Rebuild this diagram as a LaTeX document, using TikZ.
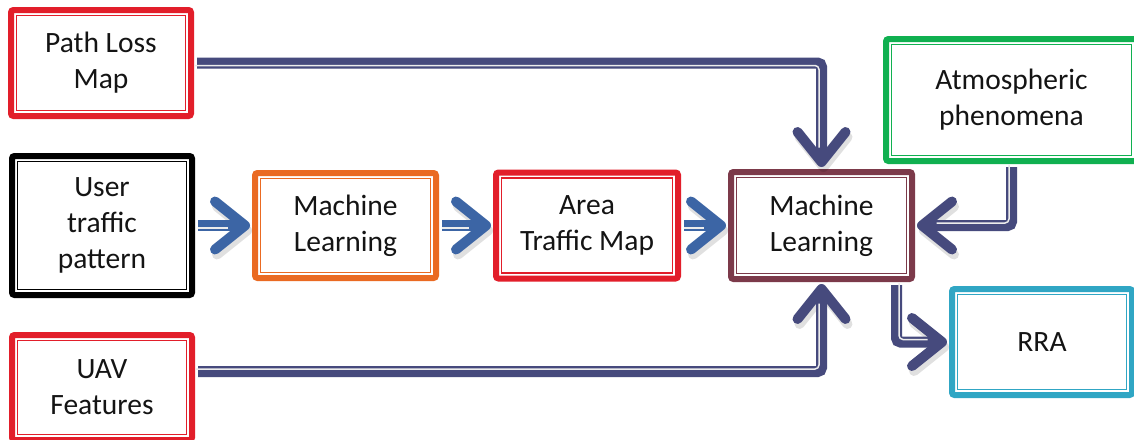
\documentclass[tikz,border=0pt]{standalone}
\usepackage{fontspec}
\setmainfont{Carlito}
\usetikzlibrary{arrows.meta}
\definecolor{cred}{RGB}{226,30,42}
\definecolor{corange}{RGB}{234,106,34}
\definecolor{cmaroon}{RGB}{124,58,74}
\definecolor{cgreen}{RGB}{16,176,80}
\definecolor{cteal}{RGB}{48,166,196}
\definecolor{cnavy}{RGB}{70,74,125}
\definecolor{cblue}{RGB}{60,101,165}
\definecolor{ctext}{RGB}{20,20,20}
\begin{document}
\begin{tikzpicture}[x=1pt,y=-1pt,
  box/.style={draw=#1, line width=6pt, rounded corners=2.5pt, fill=white,
    align=center, text=ctext, font=\fontsize{29.5}{36}\selectfont, inner sep=0pt,
    path picture={\draw[#1, line width=1.4pt, sharp corners]
      ([shift={(5.5pt,5.5pt)}]path picture bounding box.south west) rectangle
      ([shift={(-5.5pt,-5.5pt)}]path picture bounding box.north east);}},
  conn/.style 2 args={draw=#1, line width=11pt, rounded corners=4pt,
    shorten <=3pt, shorten >=2pt,
    -{Straight Barb[length=30pt, width=48pt, line width=10pt 0, round]},
    preaction={draw=black, draw opacity=0.12, transform canvas={shift={(2pt,-5pt)}}},
    postaction={draw=white!85!gray, line width=1.5pt, -, shorten >=24pt, shorten <=3pt,
      transform canvas={shift={#2}}}}
]
\useasboundingbox (0,0) rectangle (1134,439);
\fill[white] (0,0) rectangle (1134,439);

\node[box=cred, minimum width=180pt, minimum height=106pt] (pl) at (101,63) {Path Loss\\Map};
\node[box=black, minimum width=180pt, minimum height=139pt] (ut) at (102,225.5) {User\\traffic\\pattern};
\node[box=corange, minimum width=181pt, minimum height=105pt] (ml1) at (345.5,225.5) {Machine\\Learning};
\node[box=cred, minimum width=182pt, minimum height=106pt] (atm) at (587,225.5) {Area\\Traffic Map};
\node[box=cmaroon, minimum width=181pt, minimum height=107pt] (ml2) at (821.5,225.5) {Machine\\Learning};
\node[box=cgreen, minimum width=251pt, minimum height=122pt] (ap) at (1011.5,100) {Atmospheric\\phenomena};
\node[box=cteal, minimum width=180pt, minimum height=106pt] (rra) at (1042,342) {RRA};
\node[box=cred, minimum width=180pt, minimum height=105pt] (uav) at (102,387.5) {UAV\\Features};

\draw[conn={cblue}{(0pt,-2.5pt)}] (ut.east) -- (ml1.west);
\draw[conn={cblue}{(0pt,-2.5pt)}] (ml1.east) -- (atm.west);
\draw[conn={cblue}{(0pt,-2.5pt)}] (atm.east) -- (ml2.west);
\draw[conn={cnavy}{(-2.5pt,-2.5pt)}] (pl.east) -| (ml2.north);
\draw[conn={cnavy}{(-2.5pt,2.5pt)}] ([yshift=16pt]uav.east) -| (ml2.south);
\draw[conn={cnavy}{(-2.5pt,2.5pt)}] (ap.south) |- (ml2.east);
\draw[conn={cnavy}{(2.5pt,2.5pt)}] ([xshift=75pt]ml2.south) |- (rra.west);
\end{tikzpicture}
\end{document}
